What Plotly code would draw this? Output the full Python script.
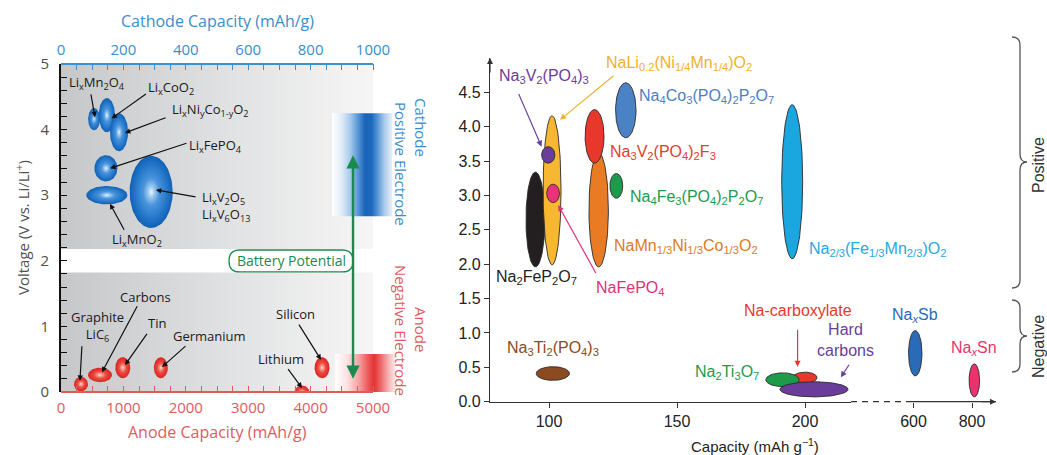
import numpy as np
import plotly.graph_objects as go

W, H = 1047, 455
LF = "Open Sans"
RF = "Liberation Sans"

BLUE_T = "#3a8dcc"
RED_T = "#e05a5e"
GREEN = "#1b8a4f"

# ---------------- Left panel data (Li-ion) ----------------
cath_labels = ["Li<sub>x</sub>Mn<sub>2</sub>O<sub>4</sub>", "Li<sub>x</sub>CoO<sub>2</sub>",
               "Li<sub>x</sub>Ni<sub>y</sub>Co<sub>1-y</sub>O<sub>2</sub>", "Li<sub>x</sub>FePO<sub>4</sub>",
               "Li<sub>x</sub>MnO<sub>2</sub>", "Li<sub>x</sub>V<sub>2</sub>O<sub>5</sub><br>Li<sub>x</sub>V<sub>6</sub>O<sub>13</sub>"]
cath_cap = [106, 147, 186, 144, 147, 289]
cath_v = [4.16, 4.22, 3.96, 3.41, 3.00, 3.05]
cath_cap_half = [19, 26, 29, 37, 66, 69]
cath_v_half = [0.17, 0.26, 0.29, 0.20, 0.14, 0.55]
cath_text_xy = [(114, 4.71, "center"), (352, 4.63, "center"), (478, 4.30, "center"),
                (494, 3.75, "center"), (244, 2.32, "center"), (445, 2.83, "left")]
cath_arrow = [((95, 4.56), (109, 4.19)), ((277, 4.56), (162, 4.17)), ((340, 4.19), (205, 3.95)),
              ((407, 3.80), (157, 3.41)), ((205, 2.45), (157, 2.87)), ((436, 2.97), (304, 3.08))]

anode_labels = ["Graphite<br>LiC<sub>6</sub>", "Carbons", "Tin", "Germanium", "Lithium", "Silicon"]
anode_cap = [320, 625, 990, 1600, 3860, 4183]
anode_v = [0.12, 0.26, 0.37, 0.37, 0.00, 0.37]
anode_cap_half = [112, 192, 120, 112, 120, 120]
anode_v_half = [0.11, 0.11, 0.16, 0.16, 0.10, 0.16]
anode_text_xy = [(577, 1.00), (1362, 1.45), (1538, 1.05), (2372, 0.85), (3526, 0.50), (3750, 1.19)]
anode_arrow = [((336, 0.72), (304, 0.17)), ((1234, 1.33), (657, 0.30)), ((1394, 0.91), (1026, 0.41)),
               ((2019, 0.72), (1619, 0.38)), ((3622, 0.37), (3862, 0.06)), ((3798, 1.05), (4167, 0.49))]

anode_axis_max = 5000
cath_axis_max = 1000
v_max = 5
gap_band = [1.82, 2.18]
cathode_window_cap = [4343, 5305]
cathode_window_v = [2.68, 4.25]
anode_window_cap = [4392, 5354]
anode_window_v = [0.0, 0.58]
battery_arrow_cap = 4680
battery_arrow_v = [0.18, 3.61]

# ---------------- Right panel data (Na-ion) ----------------
na_pos_labels = ["Na<sub>2</sub>FeP<sub>2</sub>O<sub>7</sub>",
                 "NaLi<sub>0.2</sub>(Ni<sub>1/4</sub>Mn<sub>1/4</sub>)O<sub>2</sub>",
                 "Na<sub>3</sub>V<sub>2</sub>(PO<sub>4</sub>)<sub>3</sub>",
                 "NaFePO<sub>4</sub>",
                 "NaMn<sub>1/3</sub>Ni<sub>1/3</sub>Co<sub>1/3</sub>O<sub>2</sub>",
                 "Na<sub>3</sub>V<sub>2</sub>(PO<sub>4</sub>)<sub>2</sub>F<sub>3</sub>",
                 "Na<sub>4</sub>Co<sub>3</sub>(PO<sub>4</sub>)<sub>2</sub>P<sub>2</sub>O<sub>7</sub>",
                 "Na<sub>4</sub>Fe<sub>3</sub>(PO<sub>4</sub>)<sub>2</sub>P<sub>2</sub>O<sub>7</sub>",
                 "Na<sub>2/3</sub>(Fe<sub>1/3</sub>Mn<sub>2/3</sub>)O<sub>2</sub>"]
na_pos_cap = [94.7, 101.2, 99.7, 101.6, 119.4, 117.8, 130.0, 126.3, 195.0]
na_pos_v = [2.65, 3.075, 3.59, 3.03, 2.79, 3.86, 4.24, 3.14, 3.20]
na_pos_cap_half = [3.7, 3.5, 2.6, 2.5, 3.8, 3.7, 4.0, 2.5, 4.1]
na_pos_v_half = [0.69, 1.085, 0.12, 0.134, 0.83, 0.39, 0.40, 0.18, 1.12]
na_pos_fill = ["#231f20", "#f7b731", "#6a3d9a", "#e8337c", "#e87b23", "#e8382c", "#4b82c6", "#1e9a4b", "#1aa7e0"]
na_pos_text = ["#231f20", "#f0b12c", "#6a3d9a", "#e0307a", "#e07a22", "#e0402e", "#4b7fc2", "#1f9a4a", "#29a8e0"]
na_pos_text_xy = [(95.3, 1.80, "center"), (150.6, 4.92, "center"), (98.0, 4.73, "center"),
                  (117.6, 1.65, "left"), (124.5, 2.26, "left"), (122.9, 3.62, "left"),
                  (134.4, 4.44, "left"), (130.7, 2.97, "left"), (200.7, 2.21, "left")]
na_pos_arrow = {1: ((125.8, 4.76), (104.3, 4.10)), 2: ((87.9, 4.50), (97.1, 3.71)), 3: ((118.6, 1.85), (103.6, 2.86))}

na_neg_labels = ["Na<sub>3</sub>Ti<sub>2</sub>(PO<sub>4</sub>)<sub>3</sub>", "Na-carboxylate",
                 "Na<sub>2</sub>Ti<sub>3</sub>O<sub>7</sub>", "Hard<br>carbons"]
na_neg_cap = [101.5, 200.0, 191.2, 203.5]
na_neg_v = [0.41, 0.35, 0.32, 0.18]
na_neg_cap_half = [6.5, 4.7, 6.5, 13.3]
na_neg_v_half = [0.10, 0.08, 0.10, 0.11]
na_neg_fill = ["#8b4a1f", "#e8382c", "#1e9a4b", "#6a3d9a"]
na_neg_text_xy = [(101.6, 0.77), (197.3, 1.33), (169.5, 0.43), (216.0, 0.90)]
na_neg_arrow = {1: ((197.1, 1.07), (197.1, 0.51)), 3: ((217.6, 0.56), (214.0, 0.355))}

na_alloy_labels = ["Na<sub><i>x</i></sub>Sb", "Na<sub><i>x</i></sub>Sn"]
na_alloy_cap = [606, 808]
na_alloy_v = [0.705, 0.31]
na_alloy_cap_half = [23, 18]
na_alloy_v_half = [0.33, 0.24]
na_alloy_fill = ["#2a6bb8", "#e8336c"]
na_alloy_text_xy = [(605, 1.26), (808, 0.78)]

na_ticks_low = [100, 150, 200]
na_ticks_high = [600, 800]
na_v_ticks = [0, 0.5, 1.0, 1.5, 2.0, 2.5, 3.0, 3.5, 4.0, 4.5]

# ---------------- geometry (pixels of the layout) ----------------
LPX0, LPX1, LPXEXT = 61, 373, 400
LPY0, LPY1 = 392, 64
RPX0, RBREAK, RPX1 = 490, 851, 996
RPY0, RPY1 = 401.7, 58

anode_ext = anode_axis_max * (LPXEXT - LPX0) / (LPX1 - LPX0)
cath_ext = cath_axis_max * (LPXEXT - LPX0) / (LPX1 - LPX0)


def ellipse(cx, cy, rx, ry, n=90):
    t = np.linspace(0, 2 * np.pi, n)
    return cx + rx * np.cos(t), cy + ry * np.sin(t)


def px(x):
    return x / W


def py(y):
    return 1 - y / H


fig = go.Figure()

# background gradient
fig.add_trace(go.Scatter(x=[0, anode_axis_max, anode_axis_max, 0, 0], y=[0, 0, v_max, v_max, 0],
                         mode="lines", line=dict(width=0), fill="toself",
                         fillgradient=dict(type="horizontal",
                                           colorscale=[[0, "#c5c7c9"], [0.55, "#e1e2e3"], [1, "#f6f6f6"]]),
                         xaxis="x", yaxis="y", hoverinfo="skip", showlegend=False))
fig.add_trace(go.Scatter(x=[0, anode_axis_max, anode_axis_max, 0, 0],
                         y=[gap_band[0], gap_band[0], gap_band[1], gap_band[1], gap_band[0]],
                         mode="lines", line=dict(width=0), fill="toself", fillcolor="white",
                         xaxis="x", yaxis="y", hoverinfo="skip", showlegend=False))
# electrode windows
cx0, cx1 = cathode_window_cap
cy0, cy1 = cathode_window_v
fig.add_trace(go.Scatter(x=[cx0, cx1, cx1, cx0, cx0], y=[cy0, cy0, cy1, cy1, cy0],
                         mode="lines", line=dict(width=0), fill="toself",
                         fillgradient=dict(type="horizontal", colorscale=[
                             [0, "#ffffff"], [0.15, "#e3eef8"], [0.3, "#a9cbeb"], [0.45, "#4f8fd3"],
                             [0.55, "#1a63b8"], [0.66, "#1d68bc"], [0.74, "#4a8cd0"], [0.87, "#a8c9ea"],
                             [1, "#e6eff8"]]),
                         xaxis="x", yaxis="y", hoverinfo="skip", showlegend=False))
ax0, ax1 = anode_window_cap
ay0, ay1 = anode_window_v
fig.add_trace(go.Scatter(x=[ax0, ax1, ax1, ax0, ax0], y=[ay0, ay0, ay1, ay1, ay0],
                         mode="lines", line=dict(width=0), fill="toself",
                         fillgradient=dict(type="horizontal", colorscale=[
                             [0, "#ffffff"], [0.2, "#fbe2e2"], [0.4, "#f4a0a0"], [0.55, "#ec5a5a"],
                             [0.65, "#e53232"], [0.76, "#ee6868"], [0.9, "#f8b8b8"], [1, "#fde9e9"]]),
                         xaxis="x", yaxis="y", hoverinfo="skip", showlegend=False))

# anode ellipses
for c, v, rc, rv in zip(anode_cap, anode_v, anode_cap_half, anode_v_half):
    ex, ey = ellipse(c, v, rc, rv)
    fig.add_trace(go.Scatter(x=ex, y=ey, mode="lines", line=dict(width=0), fill="toself",
                             fillgradient=dict(type="radial", colorscale=[
                                 [0, "#ffe2da"], [0.18, "#f6a08f"], [0.5, "#ec4a40"], [1, "#d92422"]]),
                             xaxis="x", yaxis="y", hoverinfo="skip", showlegend=False))
# cathode ellipses
for c, v, rc, rv in zip(cath_cap, cath_v, cath_cap_half, cath_v_half):
    ex, ey = ellipse(c, v, rc, rv)
    fig.add_trace(go.Scatter(x=ex, y=ey, mode="lines", line=dict(width=0), fill="toself",
                             fillgradient=dict(type="radial", colorscale=[
                                 [0, "#f4f9ff"], [0.12, "#a8d0f2"], [0.38, "#4a94dc"], [0.78, "#1f74c8"],
                                 [1, "#1260b3"]]),
                             xaxis="x2", yaxis="y", hoverinfo="skip", showlegend=False))

# right panel ellipses
def na_ellipse(c, v, rc, rv, color, xa):
    ex, ey = ellipse(c, v, rc, rv)
    fig.add_trace(go.Scatter(x=ex, y=ey, mode="lines", line=dict(width=0.9, color="#2a2a2a"),
                             fill="toself", fillcolor=color, xaxis=xa, yaxis="y3",
                             hoverinfo="skip", showlegend=False))


for c, v, rc, rv, col in zip(na_pos_cap, na_pos_v, na_pos_cap_half, na_pos_v_half, na_pos_fill):
    na_ellipse(c, v, rc, rv, col, "x3")
for i in [0, 1, 2, 3]:
    na_ellipse(na_neg_cap[i], na_neg_v[i], na_neg_cap_half[i], na_neg_v_half[i], na_neg_fill[i], "x3")
for c, v, rc, rv, col in zip(na_alloy_cap, na_alloy_v, na_alloy_cap_half, na_alloy_v_half, na_alloy_fill):
    na_ellipse(c, v, rc, rv, col, "x4")

# ---------------- annotations ----------------
ann = []
for lab, (x, y, xa) in zip(cath_labels, cath_text_xy):
    ann.append(dict(text=lab, x=x, y=y, xref="x2", yref="y", showarrow=False, xanchor=xa, yanchor="middle",
                    align="left", font=dict(family=LF, size=13, color="#1a1a1a")))
for (t, hd) in cath_arrow:
    ann.append(dict(text="", x=hd[0], y=hd[1], ax=t[0], ay=t[1], xref="x2", yref="y", axref="x2", ayref="y",
                    showarrow=True, arrowhead=2, arrowsize=0.9, arrowwidth=1.2, arrowcolor="#111"))
for lab, (x, y) in zip(anode_labels, anode_text_xy):
    ann.append(dict(text=lab, x=x, y=y, xref="x", yref="y", showarrow=False, xanchor="center",
                    yanchor="middle", font=dict(family=LF, size=13, color="#1a1a1a")))
for (t, hd) in anode_arrow:
    ann.append(dict(text="", x=hd[0], y=hd[1], ax=t[0], ay=t[1], xref="x", yref="y", axref="x", ayref="y",
                    showarrow=True, arrowhead=2, arrowsize=0.9, arrowwidth=1.2, arrowcolor="#111"))

# battery potential
ann.append(dict(text="", x=battery_arrow_cap, y=battery_arrow_v[1], ax=battery_arrow_cap, ay=battery_arrow_v[0],
                xref="x", yref="y", axref="x", ayref="y", showarrow=True, arrowhead=2, startarrowhead=2,
                arrowside="end+start", arrowsize=1.1, startarrowsize=1.1, arrowwidth=2.4, arrowcolor=GREEN))
ann.append(dict(text="Battery Potential", x=3686, y=2.0, xref="x", yref="y", showarrow=False,
                xanchor="center", yanchor="middle", font=dict(family=LF, size=14, color=GREEN)))


def ptext(text, x, y, size, color, family, angle=0):
    return dict(text=text, x=px(x), y=py(y), xref="paper", yref="paper", showarrow=False,
                xanchor="center", yanchor="middle", textangle=angle,
                font=dict(family=family, size=size, color=color))


# left panel titles
ann += [
    ptext("Cathode Capacity (mAh/g)", 217, 21, 16, BLUE_T, LF),
    ptext("Anode Capacity (mAh/g)", 217, 432, 16, RED_T, LF),
    ptext("Voltage (V vs. Li/Li<sup>+</sup>)", 22, 228, 15, "#505050", LF, -90),
    ptext("Cathode", 421, 127, 15, BLUE_T, LF, 90),
    ptext("Positive Electrode", 401, 164, 15, BLUE_T, LF, 90),
    ptext("Anode", 421, 329, 15, RED_T, LF, 90),
    ptext("Negative Electrode", 401, 330, 15, RED_T, LF, 90),
]

# right panel labels
for i, lab in enumerate(na_pos_labels):
    x, y, xa = na_pos_text_xy[i]
    ann.append(dict(text=lab, x=x, y=y, xref="x3", yref="y3", showarrow=False, xanchor=xa, yanchor="middle",
                    font=dict(family=RF, size=16, color=na_pos_text[i])))
for i, (t, hd) in na_pos_arrow.items():
    ann.append(dict(text="", x=hd[0], y=hd[1], ax=t[0], ay=t[1], xref="x3", yref="y3", axref="x3", ayref="y3",
                    showarrow=True, arrowhead=2, arrowsize=1, arrowwidth=1.2, arrowcolor=na_pos_text[i]))
for i, lab in enumerate(na_neg_labels):
    x, y = na_neg_text_xy[i]
    ann.append(dict(text=lab, x=x, y=y, xref="x3", yref="y3", showarrow=False, xanchor="center",
                    yanchor="middle", font=dict(family=RF, size=16, color=na_neg_fill[i])))
for i, (t, hd) in na_neg_arrow.items():
    ann.append(dict(text="", x=hd[0], y=hd[1], ax=t[0], ay=t[1], xref="x3", yref="y3", axref="x3", ayref="y3",
                    showarrow=True, arrowhead=2, arrowsize=1, arrowwidth=1.2, arrowcolor=na_neg_fill[i]))
for i, lab in enumerate(na_alloy_labels):
    x, y = na_alloy_text_xy[i]
    ann.append(dict(text=lab, x=x, y=y, xref="x4", yref="y3", showarrow=False, xanchor="center",
                    yanchor="middle", font=dict(family=RF, size=16, color=na_alloy_fill[i])))

ann += [
    ptext("Capacity (mAh g<sup>\u22121</sup>)", 755, 445, 15, "#222", RF),
    dict(text="", x=0, y=1, xref="x3 domain", yref="y3 domain", ax=0, ay=16, showarrow=True,
         arrowhead=2, arrowsize=1, arrowwidth=1.2, arrowcolor="#333"),
    dict(text="", x=1, y=0, xref="x4 domain", yref="y3 domain", ax=-16, ay=0, showarrow=True,
         arrowhead=2, arrowsize=1, arrowwidth=1.2, arrowcolor="#333"),
    ptext("Positive", 1038, 165, 16, "#333", RF, -90),
    ptext("Negative", 1038, 347, 16, "#333", RF, -90),
]


def brace(x0, xm, xt, yt, yb, ytip, r=8):
    pts = [
        f"M {px(x0)},{py(yt)}",
        f"Q {px(xm)},{py(yt)} {px(xm)},{py(yt + r)}",
        f"L {px(xm)},{py(ytip - r)}",
        f"Q {px(xm)},{py(ytip)} {px(xt)},{py(ytip)}",
        f"Q {px(xm)},{py(ytip)} {px(xm)},{py(ytip + r)}",
        f"L {px(xm)},{py(yb - r)}",
        f"Q {px(xm)},{py(yb)} {px(x0)},{py(yb)}",
    ]
    return " ".join(pts)


def pill(x0, x1, y0, y1, rx):
    ym = (y0 + y1) / 2
    return (f"M {x0 + rx},{y0} L {x1 - rx},{y0} Q {x1},{y0} {x1},{ym} Q {x1},{y1} {x1 - rx},{y1} "
            f"L {x0 + rx},{y1} Q {x0},{y1} {x0},{ym} Q {x0},{y0} {x0 + rx},{y0} Z")


dash_frac = (908 - RBREAK) / (RPX1 - RBREAK)
shapes = [
    dict(type="line", xref="x", yref="y domain", x0=0, x1=anode_axis_max, y0=0, y1=0,
         line=dict(color="#e25b5b", width=2), layer="above"),
    dict(type="line", xref="x2", yref="y domain", x0=0, x1=cath_axis_max, y0=1, y1=1,
         line=dict(color="#3d8fd0", width=2), layer="above"),
    dict(type="path", xref="x", yref="y", path=pill(2692, battery_arrow_cap, 1.83, 2.165, 170),
         fillcolor="white", line=dict(color=GREEN, width=1.3), layer="above"),
    dict(type="line", xref="x4 domain", yref="y3 domain", x0=0, x1=dash_frac, y0=0, y1=0,
         line=dict(color="#333", width=1.2, dash="6px,5px")),
    dict(type="line", xref="x4 domain", yref="y3 domain", x0=dash_frac, x1=1, y0=0, y1=0,
         line=dict(color="#333", width=1.2)),
    dict(type="path", xref="paper", yref="paper", path=brace(1012, 1020, 1027, 37, 288, 162),
         line=dict(color="#555", width=1.3)),
    dict(type="path", xref="paper", yref="paper", path=brace(1012, 1020, 1027, 300, 372, 336),
         line=dict(color="#555", width=1.3)),
]

# ranges for right panel
cap_per_px = 1 / 2.56
x3_range = [100 - (549 - RPX0) * cap_per_px, 100 + (RBREAK - 549) * cap_per_px]
hi_per_px = 200 / (972 - 913.5)
x4_range = [600 - (913.5 - RBREAK) * hi_per_px, 800 + (RPX1 - 972) * hi_per_px]

an_minor = [v for v in range(250, anode_axis_max + 1, 250) if v % 1000]
ca_minor = [v for v in range(50, cath_axis_max + 1, 50) if v % 200]

fig.update_layout(
    width=W, height=H, margin=dict(l=0, r=0, t=0, b=0, autoexpand=False), paper_bgcolor="white",
    plot_bgcolor="rgba(0,0,0,0)",
    showlegend=False, hovermode=False, annotations=ann, shapes=shapes,
    xaxis=dict(domain=[px(LPX0), px(LPXEXT)], range=[0, anode_ext], anchor="y", automargin=False,
               tickvals=list(range(0, anode_axis_max + 1, 1000)), ticks="inside", ticklen=6, tickwidth=1.3,
               tickcolor="#e25b5b", tickfont=dict(family=LF, size=15, color=RED_T), ticklabelstandoff=5,
               minor=dict(tickmode="array", tickvals=an_minor, ticks="inside", ticklen=6, tickwidth=1.3,
                          tickcolor="#e25b5b"),
               showline=False, showgrid=False, zeroline=False, fixedrange=True),
    xaxis2=dict(overlaying="x", side="top", anchor="y", range=[0, cath_ext], automargin=False,
                tickvals=list(range(0, cath_axis_max + 1, 200)), ticks="inside", ticklen=6, tickwidth=1.3,
                tickcolor="#3d8fd0", tickfont=dict(family=LF, size=15, color=BLUE_T), ticklabelstandoff=5,
                minor=dict(tickmode="array", tickvals=ca_minor, ticks="inside", ticklen=6, tickwidth=1.3,
                           tickcolor="#3d8fd0"),
                showline=False, showgrid=False, zeroline=False),
    yaxis=dict(domain=[py(LPY0), py(LPY1)], range=[0, v_max], anchor="x", dtick=1, ticks="inside",
               automargin=False,
               ticklen=6, tickwidth=1.3, tickcolor="#111", showline=True, linecolor="#111", linewidth=1.8,
               tickfont=dict(family=LF, size=15, color="#505050"), ticklabelstandoff=7,
               minor=dict(dtick=0.2, ticks="inside", ticklen=6, tickwidth=1.3, tickcolor="#111"),
               showgrid=False, zeroline=False),
    yaxis2=dict(overlaying="y", side="right", anchor="free", position=px(LPX1), range=[0, v_max], dtick=1,
                automargin=False,
                ticks="inside", ticklen=6, tickwidth=1.3, tickcolor="#111", showline=True, linecolor="#111",
                linewidth=1.8, showticklabels=False,
                minor=dict(dtick=0.2, ticks="inside", ticklen=6, tickwidth=1.3, tickcolor="#111"),
                showgrid=False, zeroline=False),
    xaxis3=dict(domain=[px(RPX0), px(RBREAK)], range=x3_range, anchor="y3", tickvals=na_ticks_low,
                automargin=False,
                ticks="outside", ticklen=5, tickwidth=1.2, tickcolor="#333", showline=True, linecolor="#333",
                linewidth=1.2, tickfont=dict(family=RF, size=16, color="#222"), showgrid=False, zeroline=False),
    xaxis4=dict(domain=[px(RBREAK), px(RPX1)], range=x4_range, anchor="y3", tickvals=na_ticks_high,
                automargin=False,
                ticks="outside", ticklen=5, tickwidth=1.2, tickcolor="#333", showline=False,
                tickfont=dict(family=RF, size=16, color="#222"), showgrid=False, zeroline=False),
    yaxis3=dict(domain=[py(RPY0), py(RPY1)], range=[0, v_max], anchor="x3", tickvals=na_v_ticks,
                automargin=False,
                ticktext=[f"{v:.1f}" for v in na_v_ticks], ticks="outside", ticklen=5, tickwidth=1.2,
                tickcolor="#333", showline=True, linecolor="#333", linewidth=1.2,
                tickfont=dict(family=RF, size=16, color="#222"), showgrid=False, zeroline=False),
)

fig.write_html("out.html")
